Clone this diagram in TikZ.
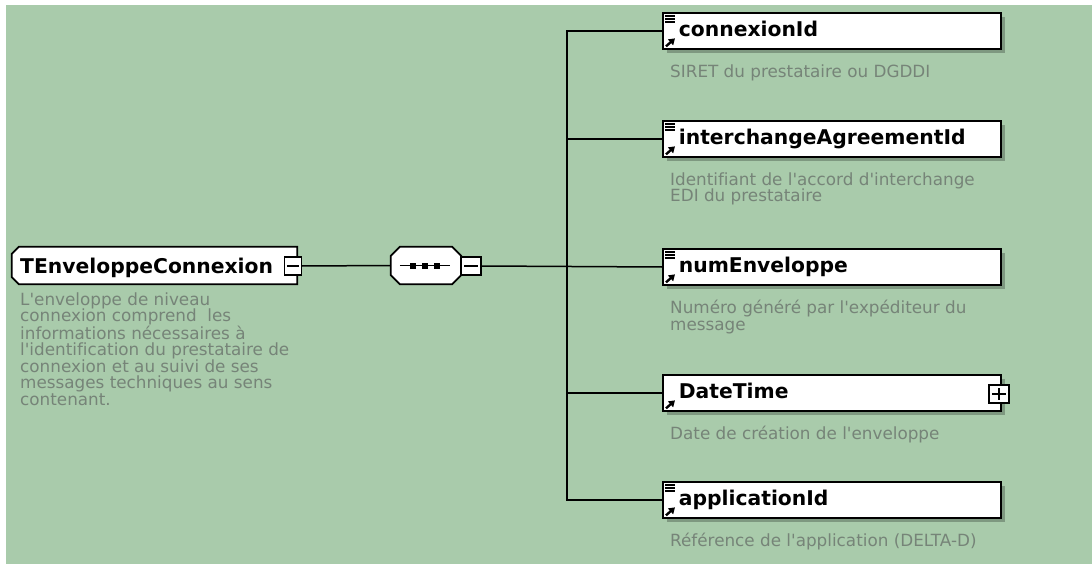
\documentclass[tikz,border=0pt]{standalone}
\usepackage{fontspec}
\setmainfont{DejaVu Sans}[Ligatures={TeXOff,CommonOff}]
\usetikzlibrary{calc,arrows.meta,shadows}
\definecolor{bggreen}{RGB}{169,203,171}
\definecolor{descgray}{RGB}{118,132,120}
\tikzset{
  elbox/.style={draw=black, line width=1.7pt, fill=white, minimum height=36pt,
    inner xsep=16pt, inner ysep=0pt, text width=306pt, align=left, anchor=west,
    text height=15pt, text depth=4pt, font=\bfseries\fontsize{20.3}{24}\selectfont,
    drop shadow={shadow xshift=4pt, shadow yshift=-4pt, fill=black, opacity=0.25}},
  title/.style={inner sep=0pt, font=\bfseries\fontsize{20.3}{24}\selectfont},
  desc/.style={anchor=north west, inner sep=0pt, align=left, text=descgray,
    font=\fontsize{16.8}{16.4}\selectfont},
  conn/.style={line width=1.5pt, draw=black},
  outline/.style={draw=black, line width=1.7pt, fill=white},
  shade/.style={fill=black, opacity=0.25},
  togglebox/.style={draw=black, line width=1.3pt, fill=white, minimum width=18pt,
    minimum height=18pt, inner sep=0pt},
  holder/.style={inner sep=0pt, draw=none}
}
\newcommand\eqicon[1]{\draw[line width=1.4pt] ($(#1.north west)+(3,4)$) -- ++(10,0)
  ($(#1.north west)+(3,7)$) -- ++(10,0) ($(#1.north west)+(3,10)$) -- ++(10,0);}
\newcommand\refarrow[1]{\draw[line width=2.4pt, -{Triangle[length=6pt,width=7.5pt]}]
  ($(#1.south west)+(4,-3.5)$) -- ++(9,-8);}
\begin{document}
\begin{tikzpicture}[x=1pt,y=-1pt]
\useasboundingbox (0,0) rectangle (1092,564);
\fill[white] (0,0) rectangle (1092,564);
\fill[bggreen] (6,5) rectangle (1092,564);

% root complex type
\node[holder, minimum width=285pt, minimum height=37pt] (root) at (154.5,265.5) {};
\fill[shade, shift={(4,4)}] ($(root.north west)+(7,0)$) -- (root.north east) -- (root.south east)
  -- ($(root.south west)+(7,0)$) -- ($(root.south west)+(0,-7)$) -- ($(root.north west)+(0,7)$) -- cycle;
\path[outline] ($(root.north west)+(7,0)$) -- (root.north east) -- (root.south east)
  -- ($(root.south west)+(7,0)$) -- ($(root.south west)+(0,-7)$) -- ($(root.north west)+(0,7)$) -- cycle;
\node[title, anchor=base west] (rootlbl) at (20,273) {TEnveloppeConnexion};
\node[togglebox, minimum width=17pt] (rootm) at (293,266) {};
\draw[line width=1.3pt] ($(rootm.west)+(3,0)$) -- ($(rootm.east)+(-3,0)$);
\node[desc] (rootdesc) at (20,292) {\rule{0pt}{13pt}L'enveloppe de niveau\\
connexion comprend\ \ les\\
informations nécessaires à\\
l'identification du prestataire de\\
connexion et au suivi de ses\\
messages techniques au sens\\
contenant.};

% sequence compositor
\node[holder, minimum width=70pt, minimum height=37pt] (seq) at (426,265.5) {};
\fill[shade, shift={(4,4)}] ($(seq.north west)+(9,0)$) -- ($(seq.north east)+(-9,0)$) -- ($(seq.north east)+(0,9)$)
  -- ($(seq.south east)+(0,-9)$) -- ($(seq.south east)+(-9,0)$) -- ($(seq.south west)+(9,0)$)
  -- ($(seq.south west)+(0,-9)$) -- ($(seq.north west)+(0,9)$) -- cycle;
\path[outline] ($(seq.north west)+(9,0)$) -- ($(seq.north east)+(-9,0)$) -- ($(seq.north east)+(0,9)$)
  -- ($(seq.south east)+(0,-9)$) -- ($(seq.south east)+(-9,0)$) -- ($(seq.south west)+(9,0)$)
  -- ($(seq.south west)+(0,-9)$) -- ($(seq.north west)+(0,9)$) -- cycle;
\draw[line width=1.6pt] ($(seq.west)+(9,0)$) -- ($(seq.east)+(-11,0)$);
\foreach \dx in {-13,-1,11} \fill ($(seq.center)+(\dx,0)$) +(-3,-3) rectangle +(3,3);
\node[togglebox, minimum width=20pt] (seqm) at (471,266) {};
\draw[line width=1.3pt] ($(seqm.west)+(4,0)$) -- ($(seqm.east)+(-4,0)$);

% elements
\node[elbox] (b1) at (662,31) {connexionId};
\node[elbox] (b2) at (662,139) {interchangeAgreementId};
\node[elbox] (b3) at (662,267) {numEnveloppe};
\node[elbox] (b4) at (662,393) {DateTime};
\node[elbox] (b5) at (662,500) {applicationId};
\eqicon{b1}\eqicon{b2}\eqicon{b3}\eqicon{b5}
\refarrow{b1}\refarrow{b2}\refarrow{b3}\refarrow{b4}\refarrow{b5}
\node[togglebox, minimum width=20pt] (b4p) at (999,394) {};
\draw[line width=1.3pt] ($(b4p.west)+(4,0)$) -- ($(b4p.east)+(-4,0)$)
  ($(b4p.north)+(0,4)$) -- ($(b4p.south)+(0,-4)$);

\node[desc] (d1) at (670,64) {\rule{0pt}{13pt}SIRET du prestataire ou DGDDI};
\node[desc] (d2) at (670,172) {\rule{0pt}{13pt}Identifiant de l'accord d'interchange\\EDI du prestataire};
\node[desc] (d3) at (670,300) {\rule{0pt}{13pt}Numéro généré par l'expéditeur du\\message};
\node[desc] (d4) at (670,426) {\rule{0pt}{13pt}Date de création de l'enveloppe};
\node[desc] (d5) at (670,533) {\rule{0pt}{13pt}Référence de l'application (DELTA-D)};

% connectors
\coordinate (trunk) at (567,266);
\draw[conn] (rootm.east) -- (seq.west);
\draw[conn] (seqm.east) -- (b3.west);
\draw[conn] (b1.west) -| (trunk) |- (b5.west);
\draw[conn] (b2.west) -- (b2.west -| trunk);
\draw[conn] (b4.west) -- (b4.west -| trunk);
\end{tikzpicture}
\end{document}
